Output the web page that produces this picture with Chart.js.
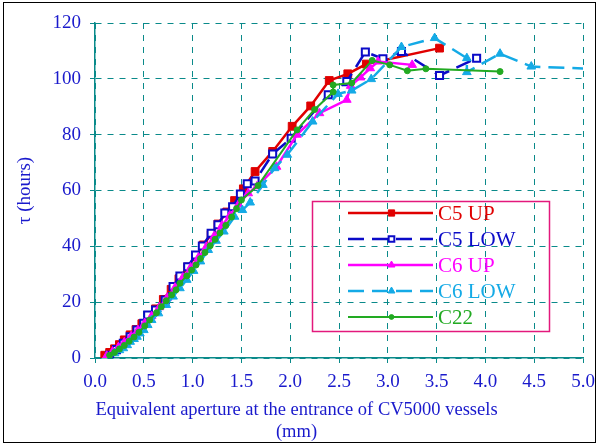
<!DOCTYPE html>
<html>
<head>
<meta charset="utf-8">
<script src="https://cdn.jsdelivr.net/npm/chart.js@4.4.1/dist/chart.umd.min.js"></script>
<style>
  html, body { margin: 0; padding: 0; background: #fff; }
  canvas { display: block; }
</style>
</head>
<body>
<canvas id="tauChart" width="598" height="444"></canvas>
<script>
// Dados (abertura equivalente em mm, tau em horas)
const c5UpX  = [0.10, 0.15, 0.20, 0.25, 0.30, 0.36, 0.42, 0.48, 0.55, 0.62, 0.70, 0.78, 0.86, 0.95, 1.03, 1.11, 1.19, 1.26, 1.35, 1.43, 1.52, 1.64, 1.82, 2.02, 2.21, 2.40, 2.59, 2.78, 3.53];
const c5UpY  = [1.0, 2.0, 3.3, 4.8, 6.5, 8.3, 10.2, 12.3, 14.8, 17.6, 21.0, 24.6, 28.4, 32.6, 36.4, 40.5, 44.2, 48.0, 52.3, 56.4, 60.6, 66.8, 74.0, 83.0, 90.3, 99.4, 101.8, 105.3, 111.0];

const c5LowX = [0.15, 0.22, 0.29, 0.36, 0.43, 0.50, 0.54, 0.62, 0.72, 0.80, 0.87, 0.95, 1.03, 1.10, 1.19, 1.26, 1.33, 1.41, 1.49, 1.56, 1.64, 1.82, 2.01, 2.39, 2.58, 2.77, 2.95, 3.14, 3.53, 3.91];
const c5LowY = [1.0, 3.0, 5.3, 7.6, 10.0, 12.4, 15.4, 17.2, 20.8, 25.6, 29.4, 32.7, 36.9, 40.1, 44.7, 47.7, 51.9, 54.2, 58.7, 62.4, 63.4, 73.1, 78.7, 94.3, 99.0, 109.6, 107.2, 109.8, 101.2, 107.4];

const c6UpX  = [0.12, 0.18, 0.24, 0.30, 0.37, 0.44, 0.51, 0.58, 0.66, 0.74, 0.82, 0.90, 0.98, 1.06, 1.14, 1.22, 1.30, 1.38, 1.47, 1.57, 1.66, 1.86, 2.07, 2.30, 2.58, 2.62, 2.72, 2.82, 2.90, 3.25];
const c6UpY  = [0.8, 2.3, 3.9, 5.6, 7.8, 10.0, 12.5, 15.0, 18.2, 21.6, 25.2, 28.8, 32.4, 36.0, 39.8, 43.6, 47.4, 51.0, 55.0, 59.0, 61.5, 68.5, 80.0, 87.7, 92.5, 97.5, 100.5, 103.8, 106.2, 105.0];

const c6LowX = [0.20, 0.25, 0.29, 0.33, 0.36, 0.40, 0.43, 0.46, 0.50, 0.54, 0.58, 0.65, 0.73, 0.80, 0.87, 0.94, 1.01, 1.08, 1.16, 1.24, 1.32, 1.43, 1.51, 1.59, 1.72, 1.84, 1.97, 2.23, 2.49, 2.63, 2.83, 3.14, 3.48, 3.81, 3.81, 4.15, 4.47, 5.10];
const c6LowY = [1.7, 2.8, 3.5, 4.6, 5.8, 6.8, 7.6, 8.8, 10.0, 11.8, 13.6, 16.0, 19.0, 22.0, 25.0, 28.0, 31.2, 34.6, 38.7, 42.0, 45.3, 50.6, 53.0, 55.7, 62.0, 68.0, 72.8, 84.7, 94.6, 95.8, 99.9, 111.4, 114.6, 107.4, 102.4, 109.0, 104.4, 103.6];

const c22X   = [0.15, 0.20, 0.25, 0.30, 0.35, 0.40, 0.45, 0.51, 0.56, 0.63, 0.68, 0.73, 0.785, 0.83, 0.87, 0.94, 0.99, 1.035, 1.08, 1.127, 1.18, 1.23, 1.28, 1.34, 1.40, 1.45, 1.50, 1.67, 2.07, 2.25, 2.44, 2.44, 2.63, 2.84, 3.02, 3.20, 3.39, 4.15];
const c22Y   = [1.0, 2.0, 3.2, 4.5, 6.0, 7.5, 9.2, 11.5, 13.6, 16.2, 18.4, 20.5, 22.6, 24.4, 26.8, 29.4, 31.5, 33.3, 35.6, 37.8, 40.2, 42.5, 44.8, 47.5, 50.5, 53.5, 56.6, 61.8, 81.7, 89.0, 95.3, 97.8, 98.5, 106.6, 105.0, 102.9, 103.6, 102.6];

const xTicksMax = 5.0;
const yTicksMax = 120;

function pares(xs, ys) {
    return xs.map((x, i) => ({ x: x, y: ys[i] }));
}

const azulTexto = '#1a1acc';
const teal = '#0a8a8a';

// legenda desenhada dentro da área do gráfico, como no original
const legendaCaixa = {
    id: 'legendaCaixa',
    afterDraw(chart) {
        const ctx = chart.ctx;
        ctx.save();
        ctx.strokeStyle = '#e3197c';
        ctx.lineWidth = 1.5;
        ctx.strokeRect(312.5, 201.5, 237, 130);
        chart.data.datasets.forEach((ds, i) => {
            const y = 213 + i * 26;
            ctx.save();
            ctx.strokeStyle = ds.borderColor;
            ctx.lineWidth = ds.borderWidth;
            ctx.setLineDash(ds.borderDash || []);
            ctx.beginPath();
            ctx.moveTo(348, y);
            ctx.lineTo(433, y);
            ctx.stroke();
            ctx.restore();
            ctx.save();
            ctx.fillStyle = ds.pointBackgroundColor;
            ctx.strokeStyle = ds.pointBorderColor;
            ctx.lineWidth = ds.pointBorderWidth;
            Chart.helpers.drawPoint(ctx, {
                pointStyle: ds.pointStyle,
                radius: ds.pointRadius * 0.8,
                borderWidth: ds.pointBorderWidth,
                rotation: 0
            }, 391.5, y);
            ctx.restore();
            ctx.fillStyle = ds.borderColor;
            ctx.font = '21px "Liberation Serif"';
            ctx.textBaseline = 'middle';
            ctx.textAlign = 'left';
            ctx.fillText(ds.label, 438, y + 1);
        });
        // moldura da figura
        ctx.strokeStyle = '#000';
        ctx.lineWidth = 1;
        ctx.strokeRect(3.5, 2.5, 592, 440);
        ctx.restore();
    }
};

const fundoBranco = {
    id: 'fundoBranco',
    beforeDraw(chart) {
        const ctx = chart.ctx;
        ctx.save();
        ctx.fillStyle = '#fff';
        ctx.fillRect(0, 0, chart.width, chart.height);
        ctx.restore();
    }
};

const tauChart = new Chart(
    document.getElementById('tauChart'),
    {
        type: 'scatter',
        data: {
            datasets: [
                {
                    label: 'C5 UP',
                    data: pares(c5UpX, c5UpY),
                    showLine: true,
                    borderColor: '#e00000',
                    borderWidth: 2.5,
                    pointStyle: 'rect',
                    pointRadius: 5.5,
                    pointBackgroundColor: '#e00000',
                    pointBorderColor: '#e00000',
                    pointBorderWidth: 1,
                    order: 4
                },
                {
                    label: 'C5 LOW',
                    data: pares(c5LowX, c5LowY),
                    showLine: true,
                    borderColor: '#0b0bc8',
                    borderWidth: 2.5,
                    borderDash: [16, 8],
                    pointStyle: 'rect',
                    pointRadius: 5,
                    pointBackgroundColor: '#ffffff',
                    pointBorderColor: '#0b0bc8',
                    pointBorderWidth: 2,
                    order: 3
                },
                {
                    label: 'C6 UP',
                    data: pares(c6UpX, c6UpY),
                    showLine: true,
                    borderColor: '#ff00ff',
                    borderWidth: 2.5,
                    pointStyle: 'triangle',
                    pointRadius: 5,
                    pointBackgroundColor: '#ff00ff',
                    pointBorderColor: '#ff00ff',
                    pointBorderWidth: 1,
                    order: 2
                },
                {
                    label: 'C6 LOW',
                    data: pares(c6LowX, c6LowY),
                    showLine: true,
                    borderColor: '#14aae6',
                    borderWidth: 2.5,
                    borderDash: [16, 8],
                    pointStyle: 'triangle',
                    pointRadius: 5,
                    pointBackgroundColor: '#14aae6',
                    pointBorderColor: '#14aae6',
                    pointBorderWidth: 1,
                    order: 1
                },
                {
                    label: 'C22',
                    data: pares(c22X, c22Y),
                    showLine: true,
                    borderColor: '#22aa22',
                    borderWidth: 2,
                    pointStyle: 'circle',
                    pointRadius: 3,
                    pointBackgroundColor: '#22aa22',
                    pointBorderColor: '#22aa22',
                    pointBorderWidth: 1,
                    order: 0
                }
            ]
        },
        options: {
            responsive: false,
            animation: false,
            layout: {
                padding: { top: 23, right: 15, bottom: 0, left: 10 }
            },
            elements: {
                line: { tension: 0 }
            },
            plugins: {
                legend: { display: false },
                tooltip: { enabled: false },
                // título do eixo x centrado na figura inteira
                title: {
                    display: true,
                    position: 'bottom',
                    text: ['Equivalent aperture at the entrance of CV5000 vessels', '(mm)'],
                    color: azulTexto,
                    font: { family: '"Liberation Serif"', size: 18.5, weight: 'normal', lineHeight: 1.2 },
                    padding: { top: 0, bottom: 1 }
                }
            },
            scales: {
                x: {
                    type: 'linear',
                    min: 0,
                    max: xTicksMax,
                    afterFit(scale) {
                        scale.height = 40.6;
                        scale.paddingRight = 0;
                        scale.paddingLeft = 0;
                    },
                    ticks: {
                        stepSize: 0.5,
                        color: azulTexto,
                        padding: 8,
                        maxRotation: 0,
                        font: { family: '"Liberation Serif"', size: 19 },
                        callback: v => Number(v).toFixed(1)
                    },
                    grid: { color: teal, lineWidth: 1, tickLength: 5, tickColor: teal },
                    border: { display: true, color: teal, width: 1.5, dash: [6, 6] }
                },
                y: {
                    type: 'linear',
                    min: 0,
                    max: yTicksMax,
                    afterFit(scale) { scale.width = 85; },
                    ticks: {
                        stepSize: 20,
                        color: azulTexto,
                        padding: 9,
                        font: { family: '"Liberation Serif"', size: 19 }
                    },
                    grid: { color: teal, lineWidth: 1, tickLength: 5, tickColor: teal },
                    border: { display: true, color: teal, width: 1.5, dash: [6, 6] },
                    title: {
                        display: true,
                        text: 'τ (hours)',
                        color: azulTexto,
                        font: { family: '"Liberation Serif"', size: 19 },
                        padding: { top: 4, bottom: 0 }
                    }
                }
            }
        },
        plugins: [fundoBranco, legendaCaixa]
    }
);
</script>
</body>
</html>
